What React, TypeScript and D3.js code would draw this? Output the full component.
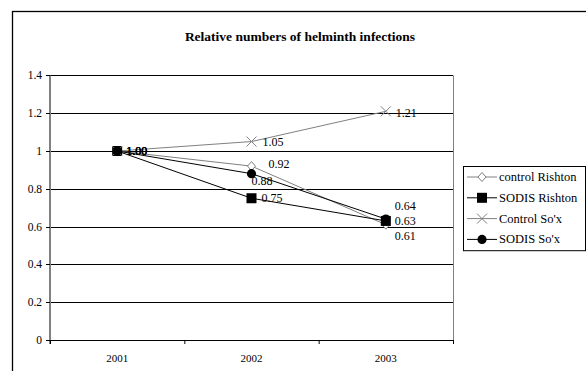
import React from "react";
import * as d3 from "d3";

const years = ["2001", "2002", "2003"];
const controlRishton = [1.0, 0.92, 0.61];
const sodisRishton = [1.0, 0.75, 0.63];
const controlSox = [1.0, 1.05, 1.21];
const sodisSox = [1.0, 0.88, 0.64];
const yTicks = [0, 0.2, 0.4, 0.6, 0.8, 1, 1.2, 1.4];

type Marker = "diamond" | "square" | "cross" | "circle";

const series: {
  name: string;
  values: number[];
  color: string;
  marker: Marker;
  labelOffsets: [number, number][];
}[] = [
  { name: "control Rishton", values: controlRishton, color: "#808080", marker: "diamond", labelOffsets: [[9, 0], [17, -2], [9, 11]] },
  { name: "SODIS Rishton", values: sodisRishton, color: "#000000", marker: "square", labelOffsets: [[9, 0], [10, 0], [9, 0]] },
  { name: "Control So'x", values: controlSox, color: "#808080", marker: "cross", labelOffsets: [[9, 0], [11, 0], [10, 2]] },
  { name: "SODIS So'x", values: sodisSox, color: "#000000", marker: "circle", labelOffsets: [[9, 0], [0, 7], [9, -13]] },
];

const FONT = "Liberation Serif, Times New Roman, Times, serif";

function MarkerShape({ type, x, y, color }: { type: Marker; x: number; y: number; color: string }) {
  switch (type) {
    case "diamond":
      return (
        <path
          d={`M${x},${y - 4.5}L${x + 4},${y}L${x},${y + 4.5}L${x - 4},${y}Z`}
          fill="#fff"
          stroke={color}
          strokeWidth={1}
        />
      );
    case "square":
      return <rect x={x - 5} y={y - 5} width={10} height={10} fill="#000" />;
    case "cross":
      return (
        <path
          d={`M${x - 5},${y - 5}L${x + 5},${y + 5}M${x - 5},${y + 5}L${x + 5},${y - 5}`}
          stroke={color}
          strokeWidth={1}
          fill="none"
        />
      );
    case "circle":
      return <circle cx={x} cy={y} r={4.6} fill="#000" />;
  }
}

export default function App() {
  const width = 586;
  const height = 371;
  const left = 50;
  const right = 453;
  const top = 75.4;
  const bottom = 340;

  const x = d3.scaleBand<string>().domain(years).range([left, right]).padding(0);
  const y = d3.scaleLinear().domain([0, 1.4]).range([bottom, top]);
  const cx = (i: number) => (x(years[i]) as number) + x.bandwidth() / 2;

  const line = d3
    .line<number>()
    .x((_, i) => cx(i))
    .y((v) => y(v));

  const legendX = 463;
  const legendY = 166;
  const legendW = 122;
  const legendRow = 20.8;

  const txt = { fontFamily: FONT };

  return (
    <svg
      width={width}
      height={height}
      style={{ position: "absolute", left: 0, top: 0, display: "block", fontFamily: FONT }}
    >
      <rect x={0} y={0} width={width} height={height} fill="#fff" />
      {/* outer chart frame */}
      <rect x={12.5} y={11.5} width={width + 10} height={height + 10} fill="none" stroke="#000" strokeWidth={1.3} />

      <text x={300} y={41} textAnchor="middle" fontSize={13.5} fontWeight="bold" fill="#000" style={txt}>
        Relative numbers of helminth infections
      </text>

      {/* gridlines */}
      {yTicks.map((t) => (
        <line key={t} x1={left} x2={right} y1={Math.round(y(t)) + 0.5} y2={Math.round(y(t)) + 0.5} stroke="#000" strokeWidth={1} />
      ))}
      {/* plot right edge */}
      <line x1={right + 0.5} x2={right + 0.5} y1={top} y2={bottom} stroke="#808080" strokeWidth={1} />

      {/* y axis */}
      <line x1={left} x2={left} y1={top} y2={bottom + 4} stroke="#808080" strokeWidth={2} />
      {yTicks.map((t) => (
        <g key={"yt" + t}>
          <line x1={left - 4} x2={left} y1={Math.round(y(t)) + 0.5} y2={Math.round(y(t)) + 0.5} stroke="#000" />
          <text x={42} y={y(t) + 4} textAnchor="end" fontSize={11.5} fill="#000" style={txt}>
            {t === 0 || t === 1 ? String(t) : t.toFixed(1)}
          </text>
        </g>
      ))}

      {/* x axis */}
      <line x1={left} x2={right} y1={bottom + 0.5} y2={bottom + 0.5} stroke="#000" strokeWidth={1.2} />
      {years.map((yr, i) => (
        <g key={yr}>
          <line
            x1={(x(yr) as number) + 0.5}
            x2={(x(yr) as number) + 0.5}
            y1={bottom}
            y2={bottom + 4}
            stroke="#000"
          />
          <text x={cx(i)} y={362} textAnchor="middle" fontSize={11} fill="#000" style={txt}>
            {yr}
          </text>
        </g>
      ))}
      <line x1={right + 0.5} x2={right + 0.5} y1={bottom} y2={bottom + 4} stroke="#000" />

      {/* series lines */}
      {series.map((s) => (
        <path key={s.name + "l"} d={line(s.values) || ""} fill="none" stroke={s.color} strokeWidth={1} />
      ))}
      {/* markers */}
      {series.map((s) =>
        s.values.map((v, i) => (
          <MarkerShape key={s.name + i} type={s.marker} x={cx(i)} y={y(v)} color={s.color} />
        ))
      )}
      {/* data labels */}
      {series.map((s) =>
        s.values.map((v, i) => (
          <text
            key={s.name + "t" + i}
            x={cx(i) + s.labelOffsets[i][0]}
            y={y(v) + s.labelOffsets[i][1] + 4}
            fontSize={12}
            fill="#000"
            style={txt}
          >
            {v.toFixed(2)}
          </text>
        ))
      )}

      {/* legend */}
      <rect
        x={legendX + 0.5}
        y={legendY + 0.5}
        width={legendW}
        height={legendRow * 4 + 1}
        fill="#fff"
        stroke="#000"
        strokeWidth={1}
      />
      {series.map((s, i) => {
        const ly = legendY + 11 + i * legendRow;
        return (
          <g key={s.name + "lg"}>
            <line x1={legendX + 4} x2={legendX + 34} y1={ly} y2={ly} stroke={s.color} strokeWidth={1} />
            <MarkerShape type={s.marker} x={legendX + 19} y={ly} color={s.color} />
            <text x={legendX + 36} y={ly + 4} fontSize={12.5} fill="#000" style={txt}>
              {s.name}
            </text>
          </g>
        );
      })}
    </svg>
  );
}
